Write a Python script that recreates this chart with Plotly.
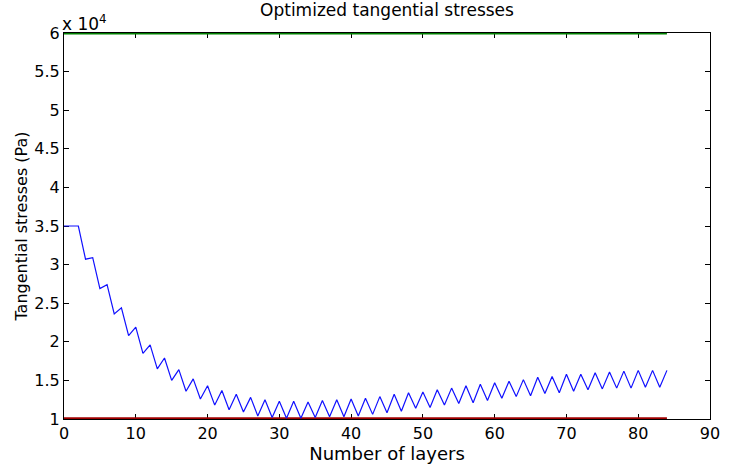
import plotly.graph_objects as go

# Layer index (x) and optimized tangential stress in units of 1e4 Pa (y)
layers = list(range(0, 85))
stress_e4 = [
    3.50, 3.50, 3.50, 3.07, 3.09, 2.69, 2.74, 2.36, 2.44, 2.08,
    2.19, 1.85, 1.96, 1.65, 1.79, 1.50, 1.64, 1.36, 1.52, 1.26,
    1.43, 1.18, 1.37, 1.12, 1.32, 1.09, 1.28, 1.04, 1.25, 1.02,
    1.23, 1.01, 1.23, 1.01, 1.22, 1.02, 1.24, 1.03, 1.25, 1.03,
    1.26, 1.04, 1.27, 1.06, 1.29, 1.08, 1.32, 1.10, 1.34, 1.14,
    1.35, 1.15, 1.38, 1.18, 1.40, 1.20, 1.43, 1.21, 1.45, 1.24,
    1.47, 1.27, 1.49, 1.29, 1.51, 1.30, 1.54, 1.33, 1.55, 1.34,
    1.58, 1.36, 1.58, 1.38, 1.60, 1.39, 1.61, 1.40, 1.62, 1.40,
    1.63, 1.41, 1.63, 1.41, 1.63,
]
lower_bound_e4 = [1.0] * len(layers)
upper_bound_e4 = [6.0] * len(layers)

x_ticks = [0, 10, 20, 30, 40, 50, 60, 70, 80, 90]
y_ticks = [1, 1.5, 2, 2.5, 3, 3.5, 4, 4.5, 5, 5.5, 6]
y_tick_text = ["1", "1.5", "2", "2.5", "3", "3.5", "4", "4.5", "5", "5.5", "6"]

font_family = "DejaVu Sans, Liberation Sans, Arial, sans-serif"

fig = go.Figure()
fig.add_trace(go.Scatter(x=layers, y=upper_bound_e4, mode="lines",
                         line=dict(color="#008000", width=3.2), showlegend=False))
fig.add_trace(go.Scatter(x=layers, y=lower_bound_e4, mode="lines",
                         line=dict(color="#a00000", width=3.5), showlegend=False))
fig.add_trace(go.Scatter(x=layers, y=stress_e4, mode="lines",
                         line=dict(color="#1010ff", width=1.2), showlegend=False))

axis_common = dict(
    showgrid=False, zeroline=False, showline=True, linecolor="black", linewidth=1.2,
    mirror="ticks", ticks="inside", ticklen=5, tickcolor="black", tickwidth=1,
    layer="below traces",
    tickfont=dict(family=font_family, size=16, color="black"),
)

fig.update_layout(
    width=732, height=468,
    margin=dict(l=64, r=15, t=33, b=46),
    paper_bgcolor="white", plot_bgcolor="white",
    font=dict(family=font_family, color="black"),
    title=dict(text="Optimized tangential stresses", x=0.5, xref="paper",
               y=0.978, yanchor="middle", font=dict(size=17, family=font_family)),
    xaxis=dict(range=[0, 90], tickvals=x_ticks,
               title=dict(text="Number of layers", font=dict(size=18), standoff=0),
               **axis_common),
    yaxis=dict(range=[1, 6], tickvals=y_ticks, ticktext=y_tick_text,
               title=dict(text="Tangential stresses (Pa)", font=dict(size=16), standoff=2),
               **axis_common),
    annotations=[dict(text="x 10<sup>4</sup>", xref="paper", yref="paper",
                      x=0, y=1, xanchor="left", yanchor="bottom", showarrow=False,
                      xshift=-4, yshift=-3,
                      font=dict(size=17, family=font_family, color="black"))],
)

fig.write_html("out.html")
